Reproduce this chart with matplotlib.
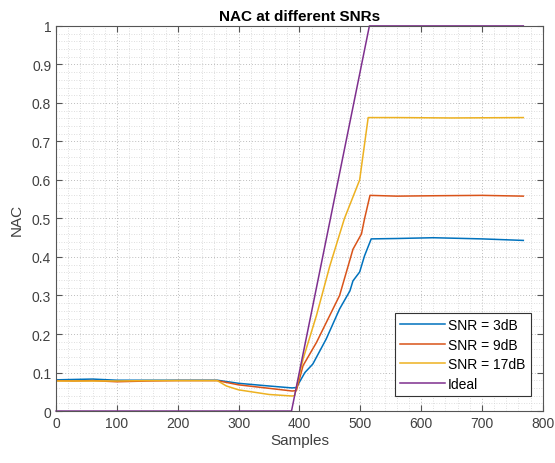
import matplotlib
matplotlib.use("Agg")
import matplotlib.pyplot as plt
from matplotlib.ticker import MultipleLocator

# vertices (sample index, NAC)
snr3_x = [0, 30, 60, 100, 150, 200, 265, 300, 350, 388, 395, 409, 422, 444, 466, 483, 488, 499, 507, 518, 560, 620, 700, 768]
snr3_y = [0.081, 0.082, 0.083, 0.080, 0.080, 0.080, 0.080, 0.072, 0.065, 0.060, 0.061, 0.100, 0.122, 0.187, 0.265, 0.312, 0.338, 0.361, 0.403, 0.447, 0.448, 0.450, 0.447, 0.443]

snr9_x = [0, 30, 60, 100, 150, 200, 265, 300, 350, 388, 395, 406, 428, 466, 488, 502, 507, 516, 560, 620, 700, 768]
snr9_y = [0.079, 0.078, 0.079, 0.076, 0.078, 0.079, 0.079, 0.068, 0.059, 0.052, 0.053, 0.118, 0.178, 0.300, 0.420, 0.460, 0.499, 0.560, 0.558, 0.559, 0.560, 0.558]

snr17_x = [0, 60, 100, 150, 200, 265, 280, 300, 350, 388, 392, 406, 428, 450, 474, 499, 513, 560, 650, 768]
snr17_y = [0.078, 0.078, 0.078, 0.079, 0.079, 0.079, 0.065, 0.055, 0.043, 0.039, 0.040, 0.135, 0.248, 0.377, 0.500, 0.600, 0.762, 0.762, 0.761, 0.762]

ideal_x = [0, 387, 515, 768]
ideal_y = [0, 0, 1, 1]

series = [
    ("SNR = 3dB", snr3_x, snr3_y, "#0072BD"),
    ("SNR = 9dB", snr9_x, snr9_y, "#D95319"),
    ("SNR = 17dB", snr17_x, snr17_y, "#EDB120"),
    ("Ideal", ideal_x, ideal_y, "#7E2F8E"),
]

plt.rcParams['font.family'] = ['Liberation Sans', 'DejaVu Sans']

fig = plt.figure(figsize=(5.55, 4.64), dpi=100)
ax = fig.add_axes([0.101, 0.112, 0.877, 0.830])

for name, xs, ys, col in series:
    ax.plot(xs, ys, color=col, lw=1.1, label=name, clip_on=(name != "Ideal"))

ax.set_xlim(0, 800)
ax.set_ylim(0, 1)
ax.xaxis.set_major_locator(MultipleLocator(100))
ax.xaxis.set_minor_locator(MultipleLocator(20))
ax.yaxis.set_major_locator(MultipleLocator(0.1))
ax.yaxis.set_minor_locator(MultipleLocator(0.02))
ax.set_yticks([0, 0.1, 0.2, 0.3, 0.4, 0.5, 0.6, 0.7, 0.8, 0.9, 1])
ax.set_yticklabels(["0", "0.1", "0.2", "0.3", "0.4", "0.5", "0.6", "0.7", "0.8", "0.9", "1"])

ax.grid(which='major', color='#bdbdbd', lw=0.7, ls=(0, (1, 2)))
ax.grid(which='minor', color='#d4d4d4', lw=0.6, ls=(0, (1, 2)))
ax.set_axisbelow(True)

for sp in ax.spines.values():
    sp.set_color('#555555')
    sp.set_linewidth(0.8)
ax.tick_params(which='major', direction='in', length=4, top=True, right=True,
               colors='#555555', labelsize=10, labelcolor='#404040')
ax.tick_params(which='minor', length=0)

ax.set_title("NAC at different SNRs", fontsize=11, fontweight='bold', pad=4)
ax.set_xlabel("Samples", fontsize=11, color='#404040', labelpad=2)
ax.set_ylabel("NAC", fontsize=11, color='#404040', labelpad=6)

leg = ax.legend(loc='lower right', bbox_to_anchor=(0.975, 0.038), fontsize=10,
                fancybox=False, framealpha=1, edgecolor='#333333',
                handlelength=3.2, borderpad=0.4, labelspacing=0.4,
                handletextpad=0.2, borderaxespad=0)
leg.get_frame().set_linewidth(0.8)

fig.savefig("out.png", dpi=100)
